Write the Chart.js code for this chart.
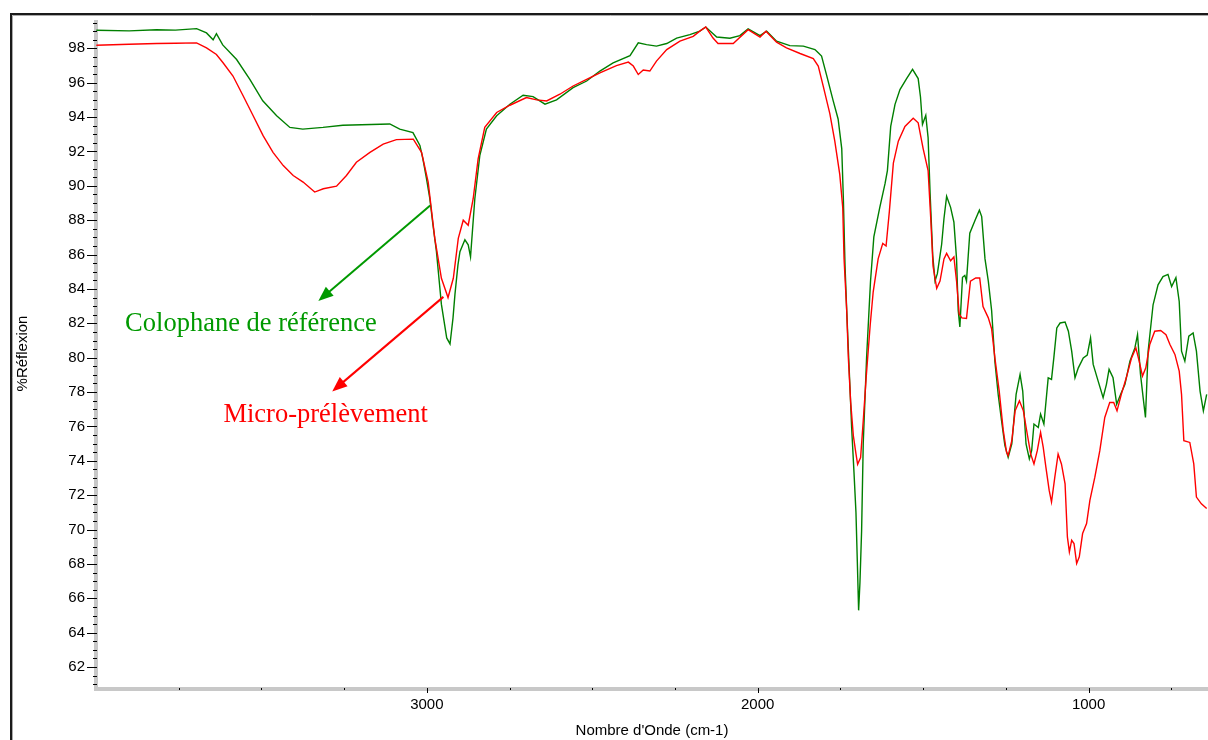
<!DOCTYPE html>
<html>
<head>
<meta charset="utf-8">
<script src="https://cdn.jsdelivr.net/npm/chart.js@4.4.1/dist/chart.umd.min.js"></script>
<style>
  html, body { margin: 0; padding: 0; background: #fff; }
  #wrap { width: 1208px; height: 740px; }
</style>
</head>
<body>
<div id="wrap"><canvas id="spectre"></canvas></div>
<script>
// axes (nombre d'onde en cm-1, reflexion en %)
const wnMin = 639, wnMax = 4000;
const reflMin = 60.84, reflMax = 99.65;
const wnTicks = [3000, 2000, 1000];
const reflTicks = [62, 64, 66, 68, 70, 72, 74, 76, 78, 80, 82, 84, 86, 88, 90, 92, 94, 96, 98];

// Colophane de reference (vert)
const colophaneWn = [3999, 3900, 3817, 3760, 3696, 3666, 3646, 3636, 3617, 3575, 3535, 3496, 3454, 3414, 3375, 3314, 3254, 3112, 3082, 3042, 3021, 3012,
  3001, 2991, 2982, 2971, 2956, 2940, 2930, 2921, 2915, 2906, 2900, 2885, 2875, 2868, 2855, 2840, 2820, 2789, 2749, 2709,
  2679, 2643, 2608, 2558, 2517, 2477, 2437, 2386, 2361, 2336, 2306, 2275, 2245, 2205, 2175, 2157, 2124, 2084, 2054, 2029,
  1993, 1973, 1943, 1903, 1862, 1827, 1817, 1807, 1792, 1772, 1757, 1746, 1741, 1736, 1731, 1723, 1716, 1709, 1703, 1699,
  1695, 1691, 1686, 1681, 1671, 1659, 1649, 1631, 1615, 1608, 1598, 1585, 1570, 1550, 1532, 1515, 1508, 1502, 1492, 1485,
  1479, 1471, 1464, 1457, 1444, 1437, 1429, 1417, 1407, 1399, 1394, 1389, 1381, 1374, 1369, 1359, 1343, 1330, 1323, 1313,
  1303, 1293, 1283, 1273, 1263, 1253, 1243, 1232, 1219, 1207, 1199, 1189, 1179, 1172, 1165, 1152, 1145, 1135, 1122, 1112,
  1105, 1096, 1086, 1071, 1061, 1051, 1041, 1031, 1016, 1004, 994, 986, 971, 956, 946, 938, 926, 915, 903, 890,
  875, 860, 852, 843, 835, 828, 820, 805, 790, 775, 760, 749, 736, 726, 719, 709, 697, 684, 674, 663,
  653, 643];
const colophaneR = [99.05, 99.02, 99.08, 99.06, 99.15, 98.9, 98.5, 98.85, 98.2, 97.35, 96.2, 94.95, 94.08, 93.4, 93.3, 93.4, 93.53, 93.6, 93.3, 93.1, 92.35, 91.57,
  90.4, 89.25, 87.8, 86.17, 83.1, 81.15, 80.8, 82.3, 83.7, 85.4, 86.17, 86.86, 86.57, 85.87, 89.25, 91.76, 93.3, 94.08, 94.75, 95.27,
  95.19, 94.75, 95.0, 95.71, 96.1, 96.68, 97.16, 97.58, 98.32, 98.22, 98.13, 98.28, 98.6, 98.8, 99.0, 99.24, 98.66, 98.59, 98.74, 99.13,
  98.74, 99.0, 98.42, 98.16, 98.13, 97.93, 97.74, 97.55, 96.46, 94.96, 93.89, 92.17, 89.17, 85.32, 82.75, 79.11, 75.9, 73.33, 70.98, 68.2,
  65.3, 66.91, 69.91, 75.04, 79.97, 84.46, 87.03, 88.75, 90.14, 90.89, 93.46, 94.74, 95.6, 96.24, 96.78, 96.24, 95.17, 93.57, 94.1, 92.81,
  89.6, 85.96, 84.46, 84.89, 86.6, 88.1, 89.39, 88.75, 87.89, 85.75, 82.75, 81.79, 84.68, 84.79, 84.46, 87.25, 88.0, 88.58, 88.21, 85.75,
  84.46, 82.75, 79.75, 77.83, 76.33, 74.9, 74.2, 74.98, 77.87, 79.03, 78.06, 74.98, 74.11, 74.59, 76.14, 75.94, 76.72, 76.14, 78.83, 78.74,
  79.99, 81.73, 82.02, 82.07, 81.54, 80.38, 78.83, 79.41, 79.99, 80.15, 81.15, 79.61, 78.64, 77.68, 78.45, 79.32, 78.83, 77.29, 77.87, 78.45,
  79.8, 80.57, 81.34, 79.03, 77.68, 76.52, 80.38, 83.08, 84.24, 84.72, 84.85, 84.14, 84.66, 83.27, 80.38, 79.8, 81.25, 81.44, 80.38, 78.06,
  76.91, 77.87];

// Micro-prelevement (rouge)
const microWn = [3999, 3900, 3817, 3760, 3696, 3666, 3636, 3616, 3586, 3555, 3525, 3495, 3465, 3434, 3404, 3374, 3339, 3313, 3273, 3243, 3213, 3172,
  3132, 3092, 3041, 3016, 2996, 2976, 2956, 2936, 2920, 2905, 2890, 2875, 2860, 2845, 2825, 2789, 2749, 2699, 2668, 2638,
  2598, 2558, 2517, 2477, 2427, 2391, 2376, 2361, 2346, 2326, 2306, 2275, 2235, 2195, 2175, 2157, 2135, 2120, 2074, 2029,
  1993, 1975, 1943, 1913, 1872, 1832, 1817, 1802, 1782, 1767, 1752, 1743, 1739, 1731, 1726, 1719, 1711, 1703, 1698, 1689,
  1681, 1672, 1660, 1651, 1636, 1622, 1612, 1602, 1590, 1575, 1555, 1530, 1515, 1500, 1485, 1477, 1470, 1459, 1449, 1437,
  1429, 1417, 1407, 1399, 1391, 1383, 1369, 1357, 1341, 1329, 1319, 1303, 1293, 1283, 1270, 1258, 1248, 1243, 1232, 1222,
  1209, 1197, 1187, 1175, 1165, 1155, 1145, 1137, 1129, 1119, 1112, 1102, 1092, 1082, 1071, 1064, 1058, 1051, 1044, 1036,
  1028, 1018, 1006, 996, 981, 966, 951, 936, 924, 914, 901, 886, 870, 857, 847, 837, 827, 815, 800, 782,
  766, 754, 739, 726, 719, 712, 694, 682, 674, 659, 643];
const microR = [98.18, 98.24, 98.28, 98.3, 98.32, 98.03, 97.64, 97.16, 96.39, 95.23, 94.08, 92.92, 91.95, 91.18, 90.6, 90.22, 89.64, 89.83, 89.98, 90.6, 91.37, 91.95,
  92.43, 92.69, 92.72, 91.95, 90.22, 86.94, 84.62, 83.5, 84.62, 86.94, 88.0, 87.71, 89.25, 91.57, 93.4, 94.27, 94.69, 95.14, 95.0, 94.94,
  95.33, 95.81, 96.2, 96.58, 97.0, 97.2, 96.97, 96.48, 96.74, 96.68, 97.26, 97.93, 98.42, 98.7, 99.0, 99.24, 98.6, 98.28, 98.28, 99.09,
  98.66, 99.0, 98.36, 98.03, 97.7, 97.4, 96.97, 95.8, 94.2, 92.6, 90.67, 88.75, 85.75, 82.75, 79.97, 77.4, 75.47, 74.4, 73.8, 74.19,
  76.33, 78.9, 81.9, 83.82, 85.75, 86.65, 86.5, 88.53, 91.32, 92.6, 93.46, 93.93, 93.67, 92.17, 90.89, 88.1, 85.32, 84.04, 84.46, 85.75,
  86.07, 85.64, 85.86, 84.46, 82.54, 82.32, 82.28, 84.46, 84.64, 84.64, 82.97, 82.32, 81.68, 79.97, 78.04, 75.8, 74.51, 74.3, 75.17, 76.91,
  77.49, 76.91, 75.75, 74.4, 73.82, 74.59, 75.65, 74.78, 73.63, 72.28, 71.6, 73.05, 74.4, 73.82, 72.66, 69.57, 68.7, 69.38, 69.19, 68.03,
  68.42, 69.77, 70.35, 71.7, 73.05, 74.59, 76.52, 77.39, 77.39, 76.91, 77.87, 78.83, 79.99, 80.57, 79.8, 78.93, 79.41, 80.77, 81.54, 81.58,
  81.34, 80.77, 80.19, 79.22, 77.87, 75.17, 75.07, 73.82, 71.89, 71.5, 71.22];

// etiquettes avec fleche (position du texte, depart et pointe de la fleche, en unites du graphique)
const notes = [
  { text: 'Colophane de référence', color: '#009900', at: [3912, 81.56], from: [2990, 88.86], to: [3328, 83.3] },
  { text: 'Micro-prélèvement', color: '#ff0000', at: [3615, 76.26], from: [2950, 83.54], to: [3286, 78.04] }
];

const toPoints = (xs, ys) => xs.map((x, i) => ({ x: x, y: ys[i] }));

// cadre, axes gris et petites graduations facon logiciel IR
const axesDecor = {
  id: 'axesDecor',
  beforeDatasetsDraw(chart) {
    const ctx = chart.ctx;
    const a = chart.chartArea;
    const xs = chart.scales.x, ys = chart.scales.y;
    ctx.save();
    ctx.strokeStyle = '#1a1a1a';
    ctx.lineWidth = 2;
    ctx.beginPath();
    ctx.moveTo(11, 740);
    ctx.lineTo(11, 14);
    ctx.lineTo(1208, 14);
    ctx.stroke();
    ctx.strokeStyle = '#aaaaaa';
    ctx.lineWidth = 1;
    ctx.beginPath();
    ctx.moveTo(12.5, 740);
    ctx.lineTo(12.5, 15.5);
    ctx.lineTo(1208, 15.5);
    ctx.stroke();

    ctx.fillStyle = '#c8c8c8';
    ctx.fillRect(a.left - 2, a.top, 4, a.bottom - a.top + 3);
    ctx.fillRect(a.left - 2, a.bottom, a.right - a.left + 2, 4);

    ctx.strokeStyle = '#000';
    ctx.lineWidth = 1;
    ctx.beginPath();
    for (let v = 61; v <= reflMax; v += 0.5) {
      const y = Math.round(ys.getPixelForValue(v)) + 0.5;
      const major = reflTicks.includes(v);
      ctx.moveTo(a.left - (major ? 9 : 3), y);
      ctx.lineTo(a.left + 1, y);
    }
    for (let w = 750; w <= 3750; w += 250) {
      const x = Math.round(xs.getPixelForValue(w)) + 0.5;
      const major = wnTicks.includes(w);
      ctx.moveTo(x, a.bottom + 1);
      ctx.lineTo(x, a.bottom + (major ? 6 : 3));
    }
    ctx.stroke();
    ctx.restore();
  },
  afterDatasetsDraw(chart) {
    const ctx = chart.ctx;
    const xs = chart.scales.x, ys = chart.scales.y;
    ctx.save();
    notes.forEach(n => {
      const x0 = xs.getPixelForValue(n.from[0]), y0 = ys.getPixelForValue(n.from[1]);
      const x1 = xs.getPixelForValue(n.to[0]), y1 = ys.getPixelForValue(n.to[1]);
      const ang = Math.atan2(y1 - y0, x1 - x0);
      const head = 15, half = 6;
      ctx.strokeStyle = n.color;
      ctx.fillStyle = n.color;
      ctx.lineWidth = 2;
      ctx.beginPath();
      ctx.moveTo(x0, y0);
      ctx.lineTo(x1 - Math.cos(ang) * head * 0.8, y1 - Math.sin(ang) * head * 0.8);
      ctx.stroke();
      ctx.beginPath();
      ctx.moveTo(x1, y1);
      ctx.lineTo(x1 - Math.cos(ang) * head - Math.sin(ang) * half, y1 - Math.sin(ang) * head + Math.cos(ang) * half);
      ctx.lineTo(x1 - Math.cos(ang) * head + Math.sin(ang) * half, y1 - Math.sin(ang) * head - Math.cos(ang) * half);
      ctx.closePath();
      ctx.fill();
      ctx.font = '26.5px "Liberation Serif", "Times New Roman", serif';
      ctx.textAlign = 'left';
      ctx.textBaseline = 'alphabetic';
      ctx.fillText(n.text, xs.getPixelForValue(n.at[0]), ys.getPixelForValue(n.at[1]));
    });
    ctx.restore();
  }
};

const ctx = document.getElementById('spectre').getContext('2d');
const spectre = new Chart(ctx, {
  type: 'line',
  data: {
    datasets: [
      {
        label: 'Micro-prélèvement',
        data: toPoints(microWn, microR),
        borderColor: '#ff0000',
        borderWidth: 1.4,
        pointRadius: 0,
        tension: 0
      },
      {
        label: 'Colophane de référence',
        data: toPoints(colophaneWn, colophaneR),
        borderColor: '#007f00',
        borderWidth: 1.4,
        pointRadius: 0,
        tension: 0
      }
    ]
  },
  options: {
    responsive: true,
    maintainAspectRatio: false,
    animation: false,
    layout: { padding: { top: 17, left: 0, right: 0, bottom: 0 } },
    plugins: {
      legend: { display: false },
      tooltip: { enabled: false }
    },
    scales: {
      x: {
        type: 'linear',
        reverse: true,
        min: wnMin,
        max: wnMax,
        afterBuildTicks: s => { s.ticks = wnTicks.map(v => ({ value: v })); },
        afterFit: s => { s.height = 53; },
        grid: { display: false, drawTicks: false },
        border: { display: false },
        ticks: {
          padding: 9,
          color: '#000',
          maxRotation: 0,
          callback: v => String(v),
          font: { family: '"Liberation Sans", Arial, sans-serif', size: 15 }
        },
        title: {
          display: true,
          text: "Nombre d'Onde (cm-1)",
          color: '#000',
          padding: { top: 0, bottom: 0 },
          font: { family: '"Liberation Sans", Arial, sans-serif', size: 15 }
        }
      },
      y: {
        min: reflMin,
        max: reflMax,
        afterBuildTicks: s => { s.ticks = reflTicks.map(v => ({ value: v })); },
        afterFit: s => { s.width = 96; },
        grid: { display: false, drawTicks: false },
        border: { display: false },
        ticks: {
          padding: 11,
          color: '#000',
          callback: v => String(v),
          font: { family: '"Liberation Sans", Arial, sans-serif', size: 15 }
        },
        title: {
          display: true,
          text: '%Réflexion',
          color: '#000',
          padding: { top: 14, bottom: 0 },
          font: { family: '"Liberation Sans", Arial, sans-serif', size: 15 }
        }
      }
    }
  },
  plugins: [axesDecor]
});
</script>
</body>
</html>
